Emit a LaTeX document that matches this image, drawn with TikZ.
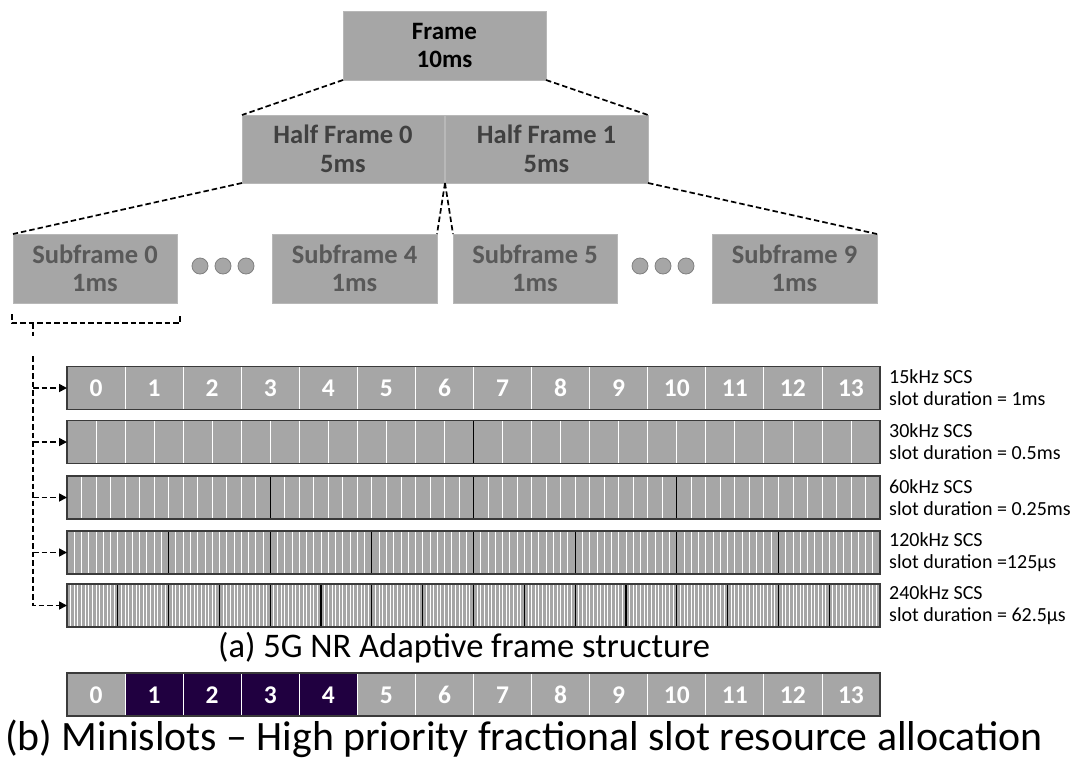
\documentclass[tikz,border=0pt]{standalone}
\usepackage{fontspec}
\setmainfont{Carlito}
\usetikzlibrary{arrows.meta}
\definecolor{boxgray}{HTML}{A6A6A6}
\definecolor{boxedge}{HTML}{B8B8B8}
\definecolor{hftext}{HTML}{404040}
\definecolor{sftext}{HTML}{595959}
\definecolor{minipurple}{HTML}{200040}
\definecolor{bordergray}{HTML}{3A3A3A}
\definecolor{dotedge}{HTML}{808080}
\newcommand\slotbar[4]{%
  \node[bar] (#1) at (473.5,#2) {};
  \pgfmathtruncatemacro\nm{#3-1}
  \foreach \i in {1,...,\nm}{\pgfmathsetmacro\xx{67+\i/#3*813}\draw[white,line width=0.8pt] (\xx,#2-21.5) -- (\xx,#2+21.5);}
  \ifnum#4>0
  \foreach \j in {1,...,#4}{\pgfmathsetmacro\xx{67+\j*14/#3*813}\draw[black,line width=1.2pt] (\xx,#2-21.5) -- (\xx,#2+21.5);}
  \fi
  \draw[bordergray,line width=1.3pt] (#1.north west) rectangle (#1.south east);
}
\begin{document}
\begin{tikzpicture}[x=1pt,y=-1pt,
  blk/.style={fill=boxgray, draw=boxedge, line width=0.6pt, inner sep=0pt, outer sep=0pt, align=center, minimum height=69pt},
  bigtxt/.style={font=\fontsize{26.5}{28.5}\selectfont\bfseries},
  conn/.style={dash pattern=on 5.5pt off 3pt, line width=1.7pt, black},
  bar/.style={fill=boxgray, draw=none, minimum width=813pt, minimum height=43pt, inner sep=0pt, outer sep=0pt},
  num/.style={text=white, font=\fontsize{25.5}{28}\selectfont\bfseries, inner sep=0pt, anchor=base},
  mslot/.style={minimum width=58.07pt, minimum height=43pt, inner sep=0pt, outer sep=0pt},
  lbl/.style={anchor=west, align=left, inner sep=0pt, font=\fontsize{20}{22}\selectfont},
  dot/.style={circle, fill=boxgray, draw=dotedge, line width=0.8pt, minimum size=16pt, inner sep=0pt},
  arr/.style={conn, -{Triangle[length=8pt,width=8pt]}}
]
\useasboundingbox (0,0) rectangle (1073,760);

% hierarchy boxes
\node[blk, minimum width=203pt, font=\fontsize{25}{28}\selectfont\bfseries, text=black] (frame) at (444.5,45.5) {Frame\\10ms};
\node[blk, minimum width=202pt, minimum height=68pt, bigtxt, text=hftext] (hf0) at (343,149) {Half Frame 0\\5ms};
\node[blk, minimum width=203pt, minimum height=68pt, bigtxt, text=hftext] (hf1) at (546.5,149) {Half Frame 1\\5ms};
\node[blk, minimum width=164pt, bigtxt, text=sftext] (sf0) at (95,268.5) {Subframe 0\\1ms};
\node[blk, minimum width=165pt, bigtxt, text=sftext] (sf4) at (354.5,268.5) {Subframe 4\\1ms};
\node[blk, minimum width=164pt, bigtxt, text=sftext] (sf5) at (535,268.5) {Subframe 5\\1ms};
\node[blk, minimum width=165pt, bigtxt, text=sftext] (sf9) at (794.5,268.5) {Subframe 9\\1ms};

\node[dot] (d1) at (200,266) {};
\node[dot] (d2) at (223,266) {};
\node[dot] (d3) at (246,266) {};
\node[dot] (d4) at (640,266) {};
\node[dot] (d5) at (663,266) {};
\node[dot] (d6) at (686,266) {};

\draw[conn] (frame.south west) -- (hf0.north west);
\draw[conn] (frame.south east) -- (hf1.north east);
\draw[conn] (hf0.south west) -- (sf0.north west);
\draw[conn] (hf1.south east) -- (sf9.north east);
\draw[conn] (hf1.south west) -- (sf4.north east);
\draw[conn] (hf1.south west) -- (sf5.north west);

% bracket under subframe 0
\coordinate (brl) at (12,314);
\coordinate (brr) at (180,314);
\coordinate (brs) at (33,323);
\coordinate (brt) at (33,336);
\coordinate (vtop) at (33,356);
\draw[conn] (brl) -- (12,323) -- (180,323) -- (brr);
\draw[conn] (brs) -- (brt);

% slot bars
\slotbar{bar1}{388}{14}{0}
\slotbar{bar2}{442}{28}{1}
\slotbar{bar3}{497.5}{56}{3}
\slotbar{bar4}{552.5}{112}{7}
\slotbar{bar5}{605.5}{224}{15}

\foreach \i in {0,...,13}{\node[num] (n\i) at (67+\i*58.0714+29.0357,396.5) {\i};}

\coordinate (a1) at (vtop |- bar1.west);
\coordinate (a2) at (vtop |- bar2.west);
\coordinate (a3) at (vtop |- bar3.west);
\coordinate (a4) at (vtop |- bar4.west);
\draw[arr] (vtop) |- (bar5.west);
\draw[arr] (a1) -- (bar1.west);
\draw[arr] (a2) -- (bar2.west);
\draw[arr] (a3) -- (bar3.west);
\draw[arr] (a4) -- (bar4.west);

\node[lbl] (l1) at (889,388) {15kHz SCS\\slot duration = 1ms};
\node[lbl] (l2) at (889,442) {30kHz SCS\\slot duration = 0.5ms};
\node[lbl] (l3) at (889,497.5) {60kHz SCS\\slot duration = 0.25ms};
\node[lbl] (l4) at (889,552.5) {120kHz SCS\\slot duration =125µs};
\node[lbl] (l5) at (889,605.5) {240kHz SCS\\slot duration = 62.5µs};

\node[font=\fontsize{34.5}{38}\selectfont, inner sep=0pt] (capa) at (464,648) {(a) 5G NR Adaptive frame structure};

% minislot bar
\foreach \i in {0,...,13}{%
  \ifnum\i>0 \ifnum\i<5 \def\fc{minipurple}\else\def\fc{boxgray}\fi \else \def\fc{boxgray}\fi
  \node[mslot, fill=\fc] (m\i) at (67+\i*58.0714+29.0357,694.5) {};
  \node[num] (mt\i) at (67+\i*58.0714+29.0357,703) {\i};}
\foreach \i in {1,...,13}{\draw[white,line width=0.8pt] (m\i.north west) -- (m\i.south west);}
\draw[bordergray,line width=1.3pt] (m0.north west) rectangle (m13.south east);

\node[font=\fontsize{41.8}{45}\selectfont, inner sep=0pt] (capb) at (524,739) {(b) Minislots – High priority fractional slot resource allocation};
\end{tikzpicture}
\end{document}
